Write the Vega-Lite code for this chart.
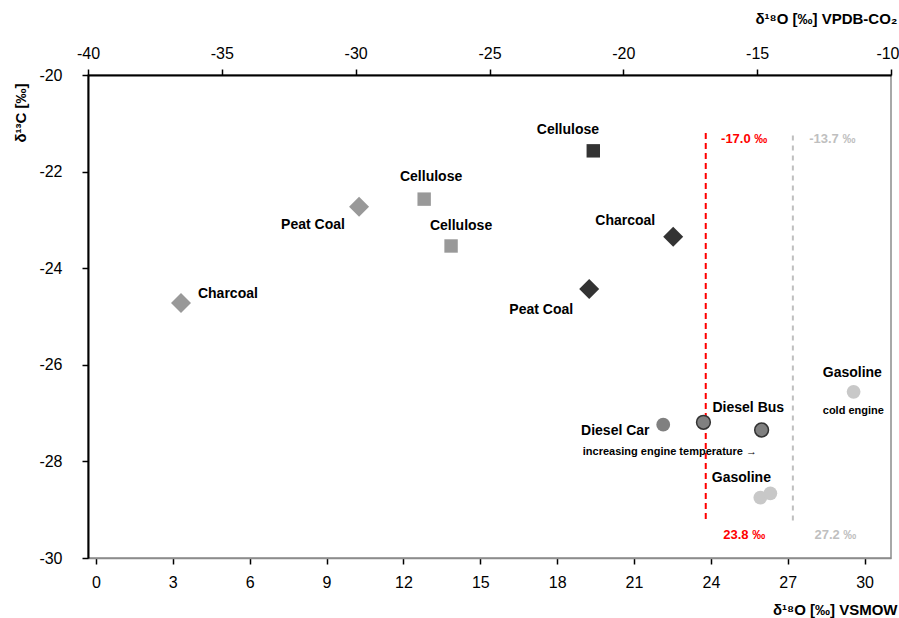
{
  "$schema": "https://vega.github.io/schema/vega-lite/v6.json",
  "width": 803,
  "height": 483,
  "autosize": {"type": "none"},
  "padding": {"left": 88, "top": 75, "right": 8, "bottom": 60},
  "config": {
    "font": "Liberation Sans",
    "view": {"stroke": "#8c8c8c", "strokeWidth": 1.5},
    "axis": {"grid": false, "labelFont": "Liberation Sans", "titleFont": "Liberation Sans", "labelColor": "#000", "titleColor": "#000", "tickColor": "#000", "tickWidth": 1.5, "tickSize": 6, "labelFontSize": 16, "titleFontSize": 15, "titleFontWeight": "bold", "labelFlush": false, "labelOverlap": false, "labelExpr": "'' + datum.value"}
  },
  "datasets": {
    "points": [
      {"material": "Charcoal", "set": "Series 1", "o18": 3.32, "c13": -24.72},
      {"material": "Peat Coal", "set": "Series 1", "o18": 10.27, "c13": -22.73},
      {"material": "Cellulose", "set": "Series 1", "o18": 12.81, "c13": -22.57},
      {"material": "Cellulose", "set": "Series 1", "o18": 13.86, "c13": -23.54},
      {"material": "Cellulose", "set": "Series 2", "o18": 19.41, "c13": -21.57},
      {"material": "Charcoal", "set": "Series 2", "o18": 22.53, "c13": -23.35},
      {"material": "Peat Coal", "set": "Series 2", "o18": 19.25, "c13": -24.43},
      {"material": "Diesel Car", "set": "Vehicle", "o18": 22.14, "c13": -27.24},
      {"material": "Diesel Bus", "set": "Vehicle", "o18": 23.71, "c13": -27.19},
      {"material": "Diesel Bus", "set": "Vehicle", "o18": 25.98, "c13": -27.35},
      {"material": "Gasoline", "set": "Vehicle", "o18": 25.93, "c13": -28.75},
      {"material": "Gasoline", "set": "Vehicle", "o18": 26.32, "c13": -28.66},
      {"material": "Gasoline", "set": "Vehicle", "o18": 29.57, "c13": -26.56}
    ],
    "labels": [
      {"text": "Cellulose", "kind": "sample", "o18": 18.42, "c13": -21.14},
      {"text": "Cellulose", "kind": "sample", "o18": 13.08, "c13": -22.11},
      {"text": "Peat Coal", "kind": "sample", "o18": 8.47, "c13": -23.10},
      {"text": "Cellulose", "kind": "sample", "o18": 14.25, "c13": -23.12},
      {"text": "Charcoal", "kind": "sample", "o18": 5.15, "c13": -24.53},
      {"text": "Charcoal", "kind": "sample", "o18": 20.66, "c13": -23.02},
      {"text": "Peat Coal", "kind": "sample", "o18": 17.38, "c13": -24.86},
      {"text": "Diesel Car", "kind": "sample", "o18": 20.27, "c13": -27.37},
      {"text": "Diesel Bus", "kind": "sample", "o18": 25.46, "c13": -26.89},
      {"text": "Gasoline", "kind": "sample", "o18": 25.19, "c13": -28.34},
      {"text": "Gasoline", "kind": "sample", "o18": 29.52, "c13": -26.17},
      {"text": "cold engine", "kind": "note", "o18": 29.56, "c13": -26.95},
      {"text": "increasing engine temperature →", "kind": "note", "o18": 22.4, "c13": -27.80},
      {"text": "-17.0 ‰", "kind": "threshold A", "o18": 25.30, "c13": -21.32},
      {"text": "23.8 ‰", "kind": "threshold A", "o18": 25.30, "c13": -29.52},
      {"text": "-13.7 ‰", "kind": "threshold B", "o18": 28.74, "c13": -21.32},
      {"text": "27.2 ‰", "kind": "threshold B", "o18": 28.86, "c13": -29.52}
    ],
    "thresholds": [
      {"kind": "threshold A", "o18": 23.8, "top": -21.2, "bottom": -29.27},
      {"kind": "threshold B", "o18": 27.2, "top": -21.25, "bottom": -29.27}
    ]
  },
  "layer": [
    {
      "layer": [
        {
          "data": {"name": "thresholds"},
          "transform": [{"filter": "datum.kind == 'threshold A'"}],
          "mark": {"type": "rule", "color": "#ff0000", "strokeWidth": 2, "strokeDash": [6, 4]},
          "encoding": {
            "x": {"field": "o18", "type": "quantitative", "scale": {"domain": [-0.31, 31.03], "nice": false, "zero": false},
              "axis": {"orient": "bottom", "values": [0, 3, 6, 9, 12, 15, 18, 21, 24, 27, 30], "domainColor": "#8c8c8c", "domainWidth": 1.5, "labelPadding": 10, "title": "δ¹⁸O [‰] VSMOW", "titleX": 809, "titleY": 51, "titleAlign": "right", "titleBaseline": "middle", "titleAnchor": "end"}},
            "y": {"field": "top", "type": "quantitative", "scale": {"domain": [-30, -20], "nice": false, "zero": false},
              "axis": {"orient": "left", "values": [-30, -28, -26, -24, -22, -20], "domainColor": "#000", "domainWidth": 2, "labelPadding": 20, "title": "δ¹³C [‰]", "titleX": -68, "titleY": 8, "titleAlign": "right", "titleBaseline": "middle", "titleAngle": -90, "titleAnchor": "end"}},
            "y2": {"field": "bottom"}
          }
        },
        {
          "data": {"name": "thresholds"},
          "transform": [{"filter": "datum.kind == 'threshold B'"}],
          "mark": {"type": "rule", "color": "#bfbfbf", "strokeWidth": 2, "strokeDash": [5, 5]},
          "encoding": {
            "x": {"field": "o18", "type": "quantitative"},
            "y": {"field": "top", "type": "quantitative"},
            "y2": {"field": "bottom"}
          }
        },
        {
          "data": {"name": "points"},
          "transform": [{"filter": "datum.set == 'Series 1' && (datum.material == 'Charcoal' || datum.material == 'Peat Coal')"}],
          "mark": {"type": "point", "shape": "diamond", "filled": true, "opacity": 1, "color": "#999999", "size": 400},
          "encoding": {"x": {"field": "o18", "type": "quantitative"}, "y": {"field": "c13", "type": "quantitative"}}
        },
        {
          "data": {"name": "points"},
          "transform": [{"filter": "datum.set == 'Series 1' && datum.material == 'Cellulose'"}],
          "mark": {"type": "point", "shape": "square", "filled": true, "opacity": 1, "color": "#999999", "size": 180},
          "encoding": {"x": {"field": "o18", "type": "quantitative"}, "y": {"field": "c13", "type": "quantitative"}}
        },
        {
          "data": {"name": "points"},
          "transform": [{"filter": "datum.set == 'Series 2' && (datum.material == 'Charcoal' || datum.material == 'Peat Coal')"}],
          "mark": {"type": "point", "shape": "diamond", "filled": true, "opacity": 1, "color": "#333333", "size": 400},
          "encoding": {"x": {"field": "o18", "type": "quantitative"}, "y": {"field": "c13", "type": "quantitative"}}
        },
        {
          "data": {"name": "points"},
          "transform": [{"filter": "datum.set == 'Series 2' && datum.material == 'Cellulose'"}],
          "mark": {"type": "point", "shape": "square", "filled": true, "opacity": 1, "color": "#333333", "size": 180},
          "encoding": {"x": {"field": "o18", "type": "quantitative"}, "y": {"field": "c13", "type": "quantitative"}}
        },
        {
          "data": {"name": "points"},
          "transform": [{"filter": "datum.material == 'Diesel Car'"}],
          "mark": {"type": "point", "shape": "circle", "filled": true, "opacity": 1, "color": "#808080", "size": 190},
          "encoding": {"x": {"field": "o18", "type": "quantitative"}, "y": {"field": "c13", "type": "quantitative"}}
        },
        {
          "data": {"name": "points"},
          "transform": [{"filter": "datum.material == 'Diesel Bus'"}],
          "mark": {"type": "point", "shape": "circle", "filled": true, "opacity": 1, "fill": "#808080", "stroke": "#333333", "strokeWidth": 1.5, "size": 190},
          "encoding": {"x": {"field": "o18", "type": "quantitative"}, "y": {"field": "c13", "type": "quantitative"}}
        },
        {
          "data": {"name": "points"},
          "transform": [{"filter": "datum.material == 'Gasoline'"}],
          "mark": {"type": "point", "shape": "circle", "filled": true, "opacity": 1, "color": "#c8c8c8", "size": 190},
          "encoding": {"x": {"field": "o18", "type": "quantitative"}, "y": {"field": "c13", "type": "quantitative"}}
        },
        {
          "data": {"name": "labels"},
          "transform": [{"filter": "datum.kind == 'sample'"}],
          "mark": {"type": "text", "font": "Liberation Sans", "fontSize": 14, "fontWeight": "bold", "color": "#000", "align": "center", "baseline": "middle"},
          "encoding": {"x": {"field": "o18", "type": "quantitative"}, "y": {"field": "c13", "type": "quantitative"}, "text": {"field": "text"}}
        },
        {
          "data": {"name": "labels"},
          "transform": [{"filter": "datum.kind == 'note'"}],
          "mark": {"type": "text", "font": "Liberation Sans", "fontSize": 11, "fontWeight": "bold", "color": "#000", "align": "center", "baseline": "middle"},
          "encoding": {"x": {"field": "o18", "type": "quantitative"}, "y": {"field": "c13", "type": "quantitative"}, "text": {"field": "text"}}
        },
        {
          "data": {"name": "labels"},
          "transform": [{"filter": "datum.kind == 'threshold A'"}],
          "mark": {"type": "text", "font": "Liberation Sans", "fontSize": 13, "fontWeight": "bold", "color": "#ff0000", "align": "center", "baseline": "middle"},
          "encoding": {"x": {"field": "o18", "type": "quantitative"}, "y": {"field": "c13", "type": "quantitative"}, "text": {"field": "text"}}
        },
        {
          "data": {"name": "labels"},
          "transform": [{"filter": "datum.kind == 'threshold B'"}],
          "mark": {"type": "text", "font": "Liberation Sans", "fontSize": 13, "fontWeight": "bold", "color": "#bfbfbf", "align": "center", "baseline": "middle"},
          "encoding": {"x": {"field": "o18", "type": "quantitative"}, "y": {"field": "c13", "type": "quantitative"}, "text": {"field": "text"}}
        }
      ]
    },
    {
      "data": {"values": [{"vpdb": -40}, {"vpdb": -10}]},
      "mark": {"type": "point", "opacity": 0},
      "encoding": {
        "x": {"field": "vpdb", "type": "quantitative", "scale": {"domain": [-40, -10], "nice": false, "zero": false},
          "axis": {"orient": "top", "values": [-40, -35, -30, -25, -20, -15, -10], "domainColor": "#000", "domainWidth": 2, "labelPadding": 8,
            "labelAlign": {"condition": {"test": "datum.value == -10", "value": "right"}, "value": "center"},
            "labelOffset": {"condition": {"test": "datum.value == -10", "value": 8}, "value": 0},
            "title": "δ¹⁸O [‰] VPDB-CO₂", "titleX": 809, "titleY": -57, "titleAlign": "right", "titleBaseline": "middle", "titleAnchor": "end"}}
      }
    }
  ],
  "resolve": {"scale": {"x": "independent"}, "axis": {"x": "independent"}}
}
